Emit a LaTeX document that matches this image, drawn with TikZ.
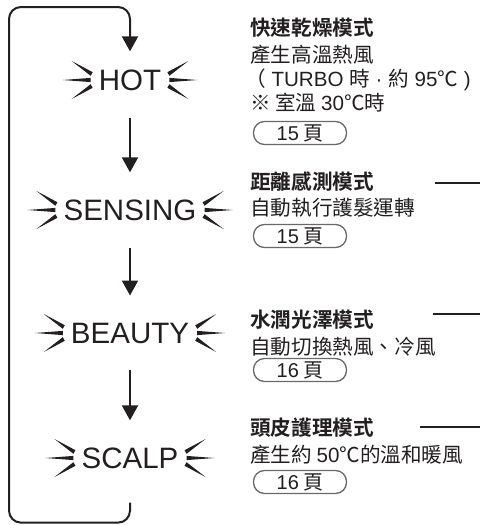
\documentclass[tikz,border=0pt]{standalone}
\usepackage{fontspec}
\setmainfont{Liberation Sans}
\newfontfamily\cjk[BoldFont={Noto Sans CJK TC Bold}]{Noto Sans CJK TC}
\usetikzlibrary{arrows.meta}
\definecolor{ink}{RGB}{35,31,32}
\definecolor{pillgray}{RGB}{105,105,105}
\newcommand\lat[1]{{\rmfamily #1}}
\tikzset{
  mode/.style={font=\fontsize{29.5}{29.5}\selectfont, inner xsep=4pt, inner ysep=27pt, text=ink},
  flow/.style={draw=ink, line width=2pt, -{Triangle[length=15pt,width=16pt]}},
  title/.style={anchor=west, inner sep=0pt, font=\cjk\bfseries\fontsize{20.6}{24}\selectfont, text=ink},
  desc/.style={anchor=west, inner sep=0pt, font=\cjk\fontsize{20.6}{24}\selectfont, text=ink},
  page/.style={draw=pillgray, line width=1.3pt, rounded corners=11pt, minimum width=93pt,
    minimum height=23pt, inner sep=0pt, font=\cjk\fontsize{20}{20}\selectfont, text=ink},
  lead/.style={draw=ink, line width=1.5pt},
  rays/.pic={
    \fill[ink] (-4,-2.1) -- (-4,2.1) -- (-32,0) -- cycle;
    \fill[ink] (-2,-7.8) -- (-4,-4.2) -- (-23,-19) -- cycle;
    \fill[ink] (-2,7.8) -- (-4,4.2) -- (-23,19) -- cycle;
  }
}
\begin{document}
\begin{tikzpicture}[x=1pt, y={(0,-1pt)}]
\useasboundingbox (0,0) rectangle (480,525);

% modes
\node[mode] (hot) at (130,80) {HOT};
\node[mode] (sensing) at (130,210) {SENSING};
\node[mode] (beauty) at (130,333) {BEAUTY};
\node[mode] (scalp) at (130,458) {SCALP};
\foreach \m in {hot,sensing,beauty,scalp}{
  \pic at (\m.west) {rays};
  \pic[xscale=-1] at (\m.east) {rays};
}

\draw[flow] (hot) -- (sensing);
\draw[flow] (sensing) -- (beauty);
\draw[flow] (beauty) -- (scalp);
\draw[flow, rounded corners=12pt] ([yshift=-7pt]scalp.south) -- ++(0,20) -| (9,7) -| ([yshift=-9pt]hot.north);

% descriptions
\node[title] (hott) at (250,28) {快速乾燥模式};
\node[desc] (hotd1) at (250,55) {產生高溫熱風};
\node[desc] (hotd2) at (245,80) {（\lat{ TURBO }時\lat{ · }約\lat{ 95}℃\lat{ )}};
\node[desc] (hotd3) at (250,103) {※ 室溫 \lat{30}℃時};
\node[page] (hotp) at (300,133) {\lat{15} 頁};

\node[title] (senst) at (250,182) {距離感測模式};
\node[desc] (sensd1) at (250,208) {自動執行護髮運轉};
\node[page] (sensp) at (300,236) {\lat{15} 頁};

\node[title] (beautyt) at (250,320) {水潤光澤模式};
\node[desc] (beautyd1) at (250,347) {自動切換熱風、冷風};
\node[page] (beautyp) at (300,370) {\lat{16} 頁};

\node[title] (scalpt) at (250,428) {頭皮護理模式};
\node[desc] (scalpd1) at (250,455) {產生約 \lat{50}℃的溫和暖風};
\node[page] (scalpp) at (300,482) {\lat{16} 頁};

% leader lines
\coordinate (senslead) at (435,183);
\coordinate (beautylead) at (433,314);
\coordinate (scalplead) at (420,427);
\draw[lead] (senslead) -- ++(45,0);
\draw[lead] (beautylead) -- ++(47,0);
\draw[lead] (scalplead) -- ++(60,0);
\end{tikzpicture}
\end{document}
